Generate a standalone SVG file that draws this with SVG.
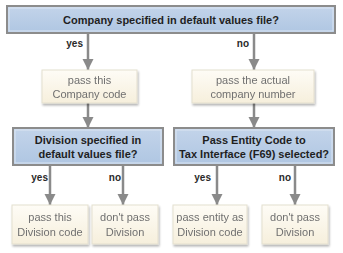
<svg xmlns="http://www.w3.org/2000/svg" width="343" height="253" viewBox="0 0 343 253">
<defs>
<linearGradient id="gBlue" x1="0" y1="0" x2="0" y2="1">
<stop offset="0" stop-color="#c3d4ea"/>
<stop offset="1" stop-color="#afc6e2"/>
</linearGradient>
<linearGradient id="gCream" x1="0" y1="0" x2="0" y2="1">
<stop offset="0" stop-color="#fefcf6"/>
<stop offset="1" stop-color="#f6efdc"/>
</linearGradient>
<filter id="sh" x="-10%" y="-10%" width="130%" height="140%">
<feGaussianBlur in="SourceAlpha" stdDeviation="1.2"/>
<feOffset dx="1" dy="1.5"/>
<feComponentTransfer><feFuncA type="linear" slope="0.3"/></feComponentTransfer>
<feMerge><feMergeNode/><feMergeNode in="SourceGraphic"/></feMerge>
</filter>
<marker id="ah" viewBox="0 0 10 10" refX="10" refY="5" markerWidth="4.6" markerHeight="4.6" orient="auto" markerUnits="strokeWidth">
<path d="M0,0 L10,5 L0,10 z" fill="#8a8a8a"/>
</marker>
</defs>
<style>
.dec rect.o{fill:url(#gBlue);stroke:#8c8c8c;stroke-width:2}
.dec rect.i{fill:none;stroke:#dbe5f2;stroke-width:1}
.dec text{font-family:"Liberation Sans",Arial,sans-serif;font-weight:bold;font-size:11px;fill:#1f1f1f;text-anchor:middle}
.proc rect{fill:url(#gCream);stroke:#e4dfcf;stroke-width:1}
.proc text{font-family:"Liberation Sans",Arial,sans-serif;font-size:11px;fill:#707070;text-anchor:middle}
.conn line{stroke:#8a8a8a;stroke-width:2.5;marker-end:url(#ah)}
.lbl{font-family:"Liberation Sans",Arial,sans-serif;font-weight:bold;font-size:10px;fill:#2a2a2a;text-anchor:end}
</style>
<g id="connectors" class="conn">
<line x1="88" y1="34" x2="88" y2="70"/>
<line x1="254" y1="34" x2="254" y2="70"/>
<line x1="88" y1="103" x2="88" y2="128"/>
<line x1="254" y1="103" x2="254" y2="128"/>
<line x1="50" y1="166" x2="50" y2="205"/>
<line x1="123" y1="166" x2="123" y2="205"/>
<line x1="217" y1="166" x2="217" y2="205"/>
<line x1="295" y1="166" x2="295" y2="205"/>
<text class="lbl" x="83" y="47">yes</text>
<text class="lbl" x="249" y="47">no</text>
<text class="lbl" x="48" y="181">yes</text>
<text class="lbl" x="121" y="181">no</text>
<text class="lbl" x="211" y="181">yes</text>
<text class="lbl" x="291" y="181">no</text>
</g>
<g id="q1" class="dec">
<rect class="o" x="7" y="6" width="328" height="27"/>
<rect class="i" x="9" y="8" width="324" height="23"/>
<text x="171" y="23.5">Company specified in default values file?</text>
</g>
<g id="p1" class="proc" filter="url(#sh)">
<rect x="42" y="70" width="95" height="33"/>
<text x="89.5" y="84">pass this</text>
<text x="89.5" y="97.5">Company code</text>
</g>
<g id="p2" class="proc" filter="url(#sh)">
<rect x="192" y="70" width="122" height="33"/>
<text x="253" y="84">pass the actual</text>
<text x="253" y="97.5">company number</text>
</g>
<g id="q2" class="dec">
<rect class="o" x="13" y="128" width="150" height="37"/>
<rect class="i" x="15" y="130" width="146" height="33"/>
<text x="88" y="144">Division specified in</text>
<text x="88" y="158">default values file?</text>
</g>
<g id="q3" class="dec">
<rect class="o" x="174" y="128" width="160" height="37"/>
<rect class="i" x="176" y="130" width="156" height="33"/>
<text x="254" y="144">Pass Entity Code to</text>
<text x="254" y="158">Tax Interface (F69) selected?</text>
</g>
<g id="p3" class="proc" filter="url(#sh)">
<rect x="12" y="205" width="76" height="39"/>
<text x="50" y="221">pass this</text>
<text x="50" y="235.5">Division code</text>
</g>
<g id="p4" class="proc" filter="url(#sh)">
<rect x="92" y="205" width="66" height="39"/>
<text x="125" y="221">don't pass</text>
<text x="125" y="235.5">Division</text>
</g>
<g id="p5" class="proc" filter="url(#sh)">
<rect x="173" y="205" width="74" height="39"/>
<text x="210" y="221">pass entity as</text>
<text x="210" y="235.5">Division code</text>
</g>
<g id="p6" class="proc" filter="url(#sh)">
<rect x="262" y="205" width="66" height="39"/>
<text x="295" y="221">don't pass</text>
<text x="295" y="235.5">Division</text>
</g>
</svg>
